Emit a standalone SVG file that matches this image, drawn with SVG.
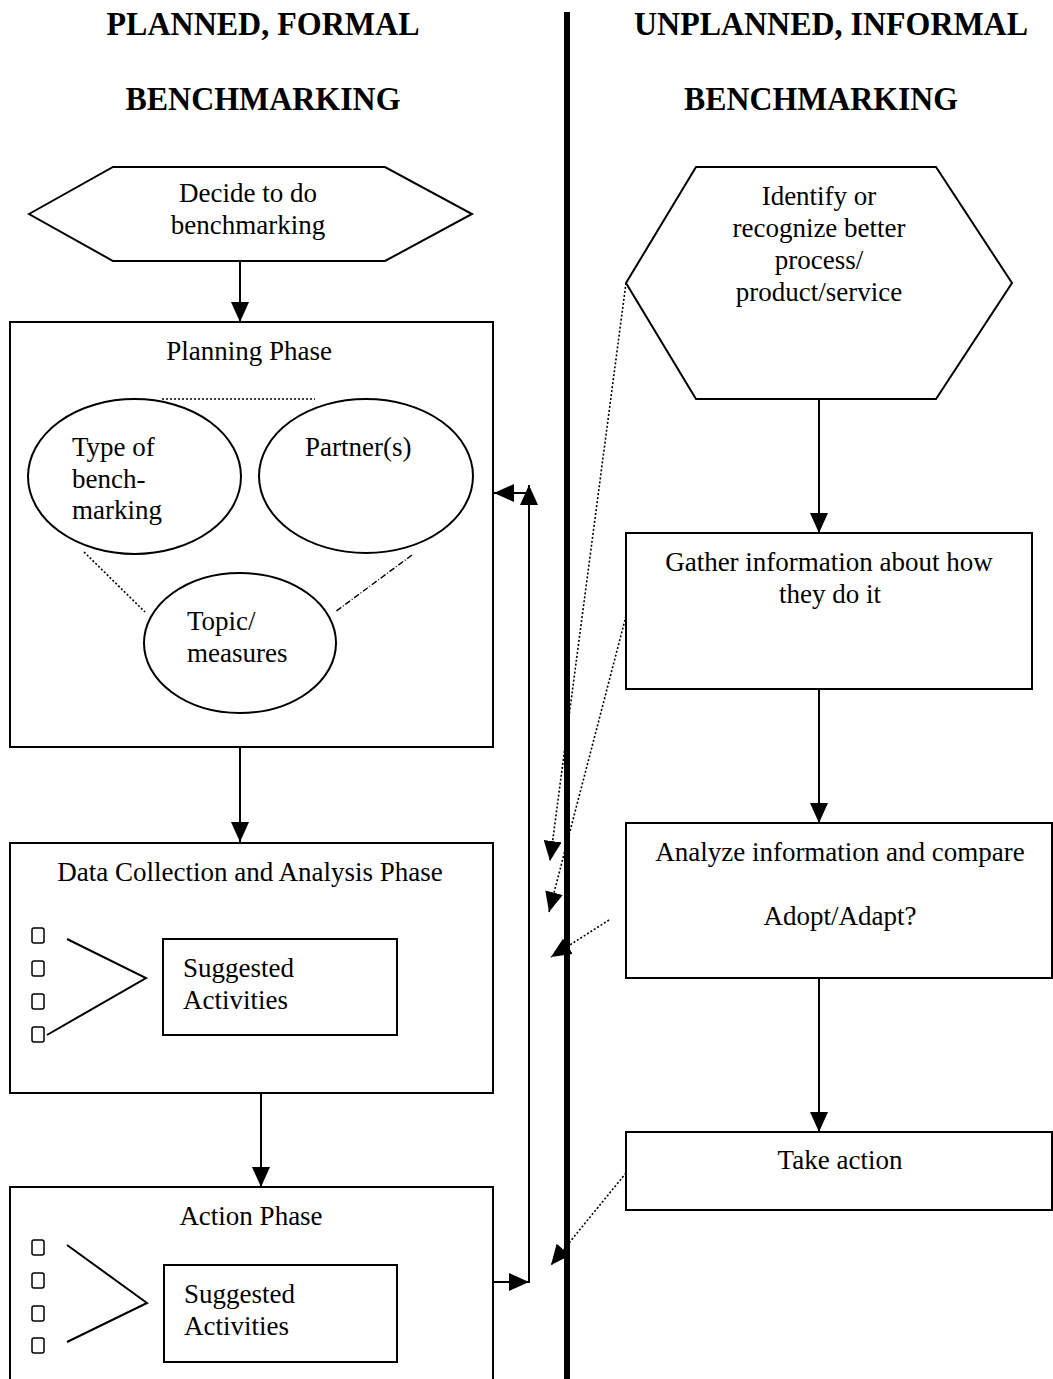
<svg xmlns="http://www.w3.org/2000/svg" width="1053" height="1379" viewBox="0 0 1053 1379">
<style>
.t{font-family:"Liberation Serif","Times New Roman",serif;font-size:27px;fill:#000}
.h{font-family:"Liberation Serif","Times New Roman",serif;font-size:33px;font-weight:bold;fill:#000}
.m{text-anchor:middle}
.s{fill:#fff;stroke:#000;stroke-width:2}
.c{fill:none;stroke:#000;stroke-width:2}
.d{fill:none;stroke:#000;stroke-width:1.6;stroke-dasharray:2 2}
.sq{fill:#fff;stroke:#000;stroke-width:1.5}
</style>
<defs>
<marker id="ah" viewBox="0 0 20 18" refX="20" refY="9" markerWidth="20" markerHeight="18" markerUnits="userSpaceOnUse" orient="auto">
<path d="M0,0 L20,9 L0,18 z" fill="#000"/>
</marker>
</defs>

<g id="headings">
<text class="h m" x="263" y="35" textLength="313" lengthAdjust="spacingAndGlyphs">PLANNED, FORMAL</text>
<text class="h m" x="263" y="110" textLength="275" lengthAdjust="spacingAndGlyphs">BENCHMARKING</text>
<text class="h m" x="831" y="35" textLength="394" lengthAdjust="spacingAndGlyphs">UNPLANNED, INFORMAL</text>
<text class="h m" x="821" y="110" textLength="274" lengthAdjust="spacingAndGlyphs">BENCHMARKING</text>
</g>

<g id="divider">
<line x1="567" y1="12" x2="567" y2="1379" stroke="#000" stroke-width="6"/>
</g>

<g id="decide">
<polygon class="s" points="29,214 113,167 385,167 472,214 385,261 113,261"/>
<text class="t m" x="248" y="202">Decide to do</text>
<text class="t m" x="248" y="234">benchmarking</text>
</g>

<g id="planning">
<rect class="s" x="10" y="322" width="483" height="425"/>
<text class="t m" x="249" y="360">Planning Phase</text>
<line class="d" x1="162" y1="399" x2="315" y2="399"/>
<line class="d" x1="84" y1="552" x2="145" y2="612"/>
<line x1="412" y1="555" x2="335" y2="612" stroke="#000" stroke-width="1.4" stroke-dasharray="6 2 1 2"/>
</g>

<g id="type">
<ellipse class="s" cx="134.5" cy="476.5" rx="106.5" ry="77.5"/>
<text class="t" x="72" y="456">Type of</text>
<text class="t" x="72" y="488">bench-</text>
<text class="t" x="72" y="519">marking</text>
</g>

<g id="partners">
<ellipse class="s" cx="366" cy="476" rx="107" ry="77"/>
<text class="t" x="305" y="456">Partner(s)</text>
</g>

<g id="topic">
<ellipse class="s" cx="240" cy="643" rx="96" ry="70"/>
<text class="t" x="187" y="630">Topic/</text>
<text class="t" x="187" y="662">measures</text>
</g>

<g id="datacollection">
<rect class="s" x="10" y="843" width="483" height="250"/>
<text class="t m" x="250" y="881">Data Collection and Analysis Phase</text>
<rect class="sq" x="32" y="928" width="12" height="15" rx="2"/>
<rect class="sq" x="32" y="961" width="12" height="15" rx="2"/>
<rect class="sq" x="32" y="994" width="12" height="15" rx="2"/>
<rect class="sq" x="32" y="1027" width="12" height="15" rx="2"/>
<polyline class="c" points="67,939 146,978 47,1035"/>
<rect class="s" x="163" y="939" width="234" height="96"/>
<text class="t" x="183" y="977">Suggested</text>
<text class="t" x="183" y="1009">Activities</text>
</g>

<g id="action">
<path class="c" d="M10,1381 L10,1187 L493,1187 L493,1381"/>
<text class="t m" x="251" y="1225">Action Phase</text>
<rect class="sq" x="32" y="1240" width="12" height="15" rx="2"/>
<rect class="sq" x="32" y="1273" width="12" height="15" rx="2"/>
<rect class="sq" x="32" y="1306" width="12" height="15" rx="2"/>
<rect class="sq" x="32" y="1338" width="12" height="15" rx="2"/>
<polyline class="c" points="67,1245 147,1303 67,1342"/>
<rect class="s" x="164" y="1265" width="233" height="97"/>
<text class="t" x="184" y="1303">Suggested</text>
<text class="t" x="184" y="1335">Activities</text>
</g>

<g id="identify">
<polygon class="s" points="626,283 696,167 936,167 1012,283 936,399 696,399"/>
<text class="t m" x="819" y="205">Identify or</text>
<text class="t m" x="819" y="237">recognize better</text>
<text class="t m" x="819" y="269">process/</text>
<text class="t m" x="819" y="301">product/service</text>
</g>

<g id="gather">
<rect class="s" x="626" y="533" width="406" height="156"/>
<text class="t m" x="829" y="571">Gather information about how</text>
<text class="t m" x="830" y="603">they do it</text>
</g>

<g id="analyze">
<rect class="s" x="626" y="823" width="426" height="155"/>
<text class="t m" x="840" y="861">Analyze information and compare</text>
<text class="t m" x="840" y="925">Adopt/Adapt?</text>
</g>

<g id="takeaction">
<rect class="s" x="626" y="1132" width="426" height="78"/>
<text class="t m" x="840" y="1169">Take action</text>
</g>

<g id="connectors">
<line class="c" x1="240" y1="262" x2="240" y2="322" marker-end="url(#ah)"/>
<line class="c" x1="240" y1="747" x2="240" y2="842" marker-end="url(#ah)"/>
<line class="c" x1="261" y1="1093" x2="261" y2="1187" marker-end="url(#ah)"/>
<line class="c" x1="819" y1="399" x2="819" y2="533" marker-end="url(#ah)"/>
<line class="c" x1="819" y1="689" x2="819" y2="823" marker-end="url(#ah)"/>
<line class="c" x1="819" y1="978" x2="819" y2="1132" marker-end="url(#ah)"/>
<line class="c" x1="493" y1="1282" x2="529" y2="1282" marker-end="url(#ah)"/>
<line class="c" x1="529" y1="1283" x2="529" y2="485" marker-end="url(#ah)"/>
<line class="c" x1="529" y1="493" x2="494" y2="493" marker-end="url(#ah)"/>
<line class="d" x1="626" y1="283" x2="550" y2="861" marker-end="url(#ah)"/>
<line class="d" x1="626" y1="616" x2="549" y2="912" marker-end="url(#ah)"/>
<line class="d" x1="609" y1="920" x2="551" y2="957" marker-end="url(#ah)"/>
<line class="d" x1="626" y1="1173" x2="551" y2="1265" marker-end="url(#ah)"/>
</g>
</svg>
